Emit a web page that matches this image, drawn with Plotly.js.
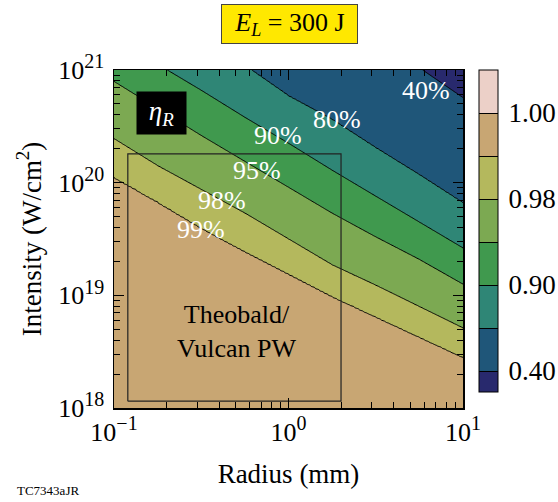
<!DOCTYPE html>
<html><head><meta charset="utf-8">
<script src="https://cdn.plot.ly/plotly-3.0.1.min.js"></script>
<style>html,body{margin:0;padding:0;background:#fff;} #chart{width:558px;height:502px;}</style>
</head><body><div id="chart"></div>
<script>
// ---- data ----
const radiusMm = [0.1, 0.178, 0.316, 0.562, 1.0, 1.78, 3.16, 5.62, 10];
const levelValues = [0.40, 0.80, 0.90, 0.95, 0.98, 0.99, 1.00];
const levelLabels = ['40%', '80%', '90%', '95%', '98%', '99%'];
// log10(intensity, W/cm^2) where each contour level crosses each radius column
const logI040 = [22.90, 22.63, 22.36, 22.10, 21.83, 21.56, 21.29, 21.02, 20.755];
const logI080 = [21.80, 21.55, 21.30, 21.04, 20.77, 20.56, 20.31, 20.07, 19.82];
const logI090 = [21.28, 21.05, 20.82, 20.58, 20.35, 20.11, 19.88, 19.65, 19.42];
const logI095 = [20.90, 20.66, 20.42, 20.19, 19.96, 19.73, 19.52, 19.32, 19.10];
const logI098 = [20.39, 20.15, 19.94, 19.73, 19.50, 19.27, 19.09, 18.90, 18.71];
const logI099 = [20.05, 19.83, 19.60, 19.39, 19.19, 18.99, 18.81, 18.63, 18.45];
const logI100 = [17.50, 17.50, 17.50, 17.50, 17.50, 17.50, 17.50, 17.50, 17.50];
const colorbarLevels = [0.40, 0.90, 0.98, 1.00];
const theobaldRadius = [0.12, 2.0];
const theobaldIntensity = [1.15e18, 1.8e20];
const xTickVals = [0.1, 1, 10];
const xTickExp = ['\u22121', '0', '1'];
const yTickVals = [1e18, 1e19, 1e20, 1e21];
const yTickExp = ['18', '19', '20', '21'];

// ---- styles ----
const bandColors = ['#28296d', '#1f5679', '#2f8676', '#40994e', '#7ca952', '#b4b85d', '#c8a673', '#ecd0c8'];
const FONT = 'Liberation Serif';
const supText = e => '10<sup><span style="font-size:20px">' + e + '</span></sup>';

// ---- build the z table (level-index space, so the uneven levels become evenly spaced) ----
const crossings = [logI040, logI080, logI090, logI095, logI098, logI099, logI100];
const dataLogR = radiusMm.map(r => Math.log10(r));
function crossAt(k, X) {
  const c = crossings[k];
  for (let j = 0; j < dataLogR.length - 1; j++) {
    if (X <= dataLogR[j + 1] + 1e-9) {
      const t = (X - dataLogR[j]) / (dataLogR[j + 1] - dataLogR[j]);
      return c[j] + t * (c[j + 1] - c[j]);
    }
  }
  return c[c.length - 1];
}
const colsLogR = [];
for (let i = 0; i <= 80; i++) colsLogR.push(-1 + i * 0.025);
const gridRadius = colsLogR.map(v => Math.pow(10, v));
const rowsLogI = [];
for (let i = 0; i <= 300; i++) rowsLogI.push(18 + i * 0.01);
const intensity = rowsLogI.map(v => Math.pow(10, v));
const z = rowsLogI.map(Y => colsLogR.map(X => {
  const anchors = [[crossAt(0, X) + 1, -1]];
  crossings.forEach((c, k) => anchors.push([crossAt(k, X), k]));
  anchors.push([crossAt(6, X) - 1, 7]);
  if (Y >= anchors[0][0]) return -1;
  for (let k = 0; k < anchors.length - 1; k++) {
    const a = anchors[k], b = anchors[k + 1];
    if (Y <= a[0] && Y >= b[0]) return a[1] + (a[0] - Y) / (a[0] - b[0]) * (b[1] - a[1]);
  }
  return 7;
}));

const colorscale = bandColors.map((c, i) => [i / (bandColors.length - 1), c]);
const cbTickVals = colorbarLevels.map(v => levelValues.indexOf(v));
const cbTickText = colorbarLevels.map(v => v.toFixed(2));

const contour = {
  type: 'contour', x: gridRadius, y: intensity, z: z,
  autocontour: false,
  contours: {start: 0, end: 6, size: 1, coloring: 'fill', showlines: true},
  line: {color: 'black', width: 1, smoothing: 0.6},
  colorscale: colorscale, zmin: -0.5, zmax: 7,
  hoverinfo: 'skip',
  colorbar: {
    x: 1.0458, xanchor: 'left', y: 0.525, yanchor: 'middle',
    lenmode: 'pixels', len: 322, thickness: 19, xpad: 0, ypad: 0,
    outlinecolor: 'black', outlinewidth: 1,
    tickmode: 'array', tickvals: cbTickVals, ticktext: cbTickText,
    ticks: 'outside', ticklen: 5, tickcolor: 'rgba(0,0,0,0)',
    tickfont: {family: FONT, size: 27, color: 'black'}
  }
};

const box = {
  type: 'scatter', mode: 'lines', hoverinfo: 'skip', showlegend: false,
  x: [theobaldRadius[0], theobaldRadius[1], theobaldRadius[1], theobaldRadius[0], theobaldRadius[0]],
  y: [theobaldIntensity[0], theobaldIntensity[0], theobaldIntensity[1], theobaldIntensity[1], theobaldIntensity[0]],
  line: {color: '#222', width: 1.2}
};

const labelPos = [[0.788, 20.814], [0.278, 20.565], [-0.060, 20.423], [-0.181, 20.112], [-0.381, 19.846], [-0.501, 19.580]];
const annotations = levelLabels.map((t, i) => ({
  xref: 'x', yref: 'y', x: labelPos[i][0], y: labelPos[i][1], xanchor: 'center', yanchor: 'middle',
  text: t, showarrow: false,
  font: {family: FONT, size: 26, color: 'white'}
}));
annotations.push({
  xref: 'paper', yref: 'paper', x: 0.135, y: 0.873, xanchor: 'center', yanchor: 'middle',
  text: '<i>\u03b7<sub>R</sub></i>', showarrow: false,
  bgcolor: 'black', width: 47, height: 40, font: {family: FONT, size: 27, color: 'white'}
});
annotations.push({
  xref: 'paper', yref: 'paper', x: 0.3496, y: 0.225, xanchor: 'center', yanchor: 'middle',
  text: 'Theobald/<br>Vulcan PW', showarrow: false,
  font: {family: FONT, size: 26, color: 'black'}
});
annotations.push({
  xref: 'paper', yref: 'paper', x: 0.503, y: 1.136, xanchor: 'center', yanchor: 'middle',
  text: '<i>E<sub>L</sub></i> = 300 J', showarrow: false,
  bgcolor: '#ffe800', bordercolor: '#444', borderwidth: 1, width: 133, height: 36,
  font: {family: FONT, size: 26, color: 'black'}
});
annotations.push({
  xref: 'paper', yref: 'paper', x: -0.284, y: -0.243, xanchor: 'left', yanchor: 'middle',
  text: 'TC7343aJR', showarrow: false,
  font: {family: FONT, size: 13, color: 'black'}
});

const axisCommon = {
  type: 'log', showgrid: false, zeroline: false, showline: true, linecolor: 'black', linewidth: 1.5,
  mirror: 'ticks', ticks: 'inside', ticklen: 10, tickwidth: 1, tickcolor: 'black',
  tickmode: 'array', tickfont: {family: FONT, size: 26, color: 'black'},
  minor: {ticks: 'inside', ticklen: 6, tickwidth: 1, tickcolor: 'black', dtick: 'D1', showgrid: false}
};

const layout = {
  width: 558, height: 502,
  margin: {l: 114, r: 95, t: 70, b: 94, autoexpand: false},
  paper_bgcolor: 'white', plot_bgcolor: 'white',
  font: {family: FONT},
  showlegend: false,
  xaxis: Object.assign({}, axisCommon, {
    range: [-1, 1], tickvals: xTickVals, ticktext: xTickExp.map(supText),
    title: {text: 'Radius (mm)', font: {family: FONT, size: 27, color: 'black'}, standoff: 18}
  }),
  yaxis: Object.assign({}, axisCommon, {
    range: [18, 21], tickvals: yTickVals, ticktext: yTickExp.map(supText), ticklabelstandoff: 3,
    title: {text: 'Intensity (W/cm<sup>2</sup>)', font: {family: FONT, size: 27, color: 'black'}, standoff: 9}
  }),
  annotations: annotations
};

Plotly.newPlot('chart', [contour, box], layout, {staticPlot: true, displayModeBar: false});
</script></body></html>
